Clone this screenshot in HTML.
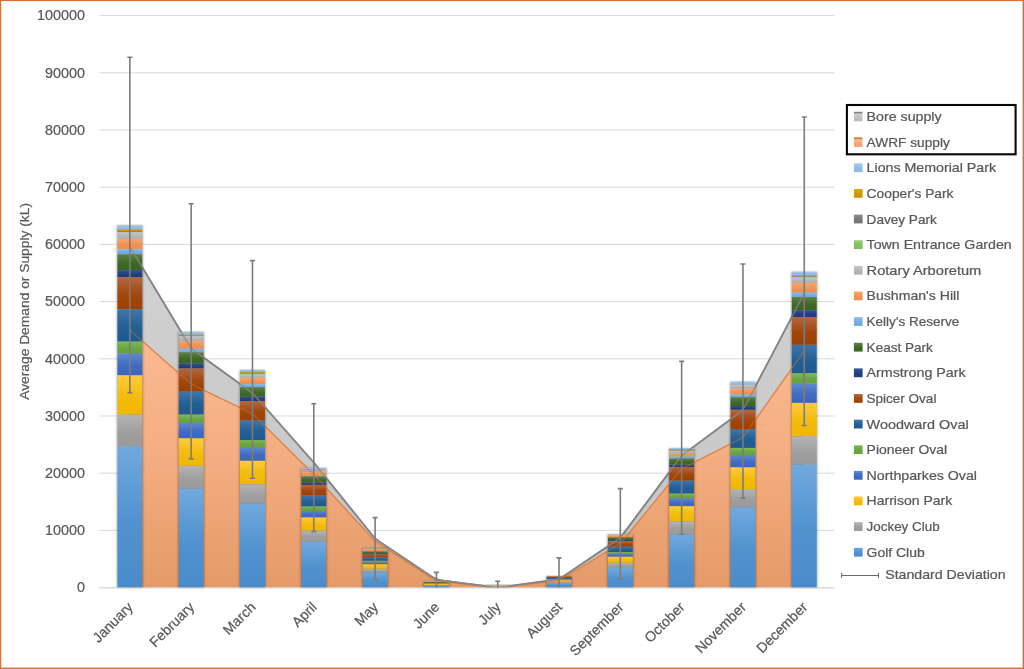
<!DOCTYPE html>
<html lang="en"><head><meta charset="utf-8"><title>Average Demand or Supply (kL)</title>
<style>html,body{margin:0;padding:0;background:#fff;}body{width:1024px;height:669px;overflow:hidden;}svg{display:block;}svg text{stroke:#595959;stroke-width:0.24px;}</style>
</head><body>
<svg width="1024" height="669" viewBox="0 0 1024 669" font-family="'Liberation Sans', sans-serif" font-size="13" fill="#595959">
<defs>
<linearGradient id="g0" x1="0" y1="0" x2="0" y2="1"><stop offset="0" stop-color="#A6CAEC"/><stop offset="0.55" stop-color="#93BDE6"/><stop offset="1" stop-color="#8FBAE5"/></linearGradient>
<linearGradient id="g1" x1="0" y1="0" x2="0" y2="1"><stop offset="0" stop-color="#DDA520"/><stop offset="0.55" stop-color="#CD9706"/><stop offset="1" stop-color="#C99400"/></linearGradient>
<linearGradient id="g2" x1="0" y1="0" x2="0" y2="1"><stop offset="0" stop-color="#8C8C8C"/><stop offset="0.55" stop-color="#7A7A7A"/><stop offset="1" stop-color="#767676"/></linearGradient>
<linearGradient id="g3" x1="0" y1="0" x2="0" y2="1"><stop offset="0" stop-color="#98CC78"/><stop offset="0.55" stop-color="#84BF61"/><stop offset="1" stop-color="#80BC5C"/></linearGradient>
<linearGradient id="g4" x1="0" y1="0" x2="0" y2="1"><stop offset="0" stop-color="#C8C8C8"/><stop offset="0.55" stop-color="#B4B4B4"/><stop offset="1" stop-color="#B0B0B0"/></linearGradient>
<linearGradient id="g5" x1="0" y1="0" x2="0" y2="1"><stop offset="0" stop-color="#F8A66E"/><stop offset="0.55" stop-color="#F09354"/><stop offset="1" stop-color="#EE8F4E"/></linearGradient>
<linearGradient id="g6" x1="0" y1="0" x2="0" y2="1"><stop offset="0" stop-color="#8FBDE9"/><stop offset="0.55" stop-color="#76ACE0"/><stop offset="1" stop-color="#70A8DE"/></linearGradient>
<linearGradient id="g7" x1="0" y1="0" x2="0" y2="1"><stop offset="0" stop-color="#5C8045"/><stop offset="0.55" stop-color="#406928"/><stop offset="1" stop-color="#3A6422"/></linearGradient>
<linearGradient id="g8" x1="0" y1="0" x2="0" y2="1"><stop offset="0" stop-color="#34538F"/><stop offset="0.55" stop-color="#22407C"/><stop offset="1" stop-color="#1E3C78"/></linearGradient>
<linearGradient id="g9" x1="0" y1="0" x2="0" y2="1"><stop offset="0" stop-color="#B4673F"/><stop offset="0.55" stop-color="#A0470B"/><stop offset="1" stop-color="#9C4000"/></linearGradient>
<linearGradient id="g10" x1="0" y1="0" x2="0" y2="1"><stop offset="0" stop-color="#4175A8"/><stop offset="0.55" stop-color="#235F95"/><stop offset="1" stop-color="#1D5A91"/></linearGradient>
<linearGradient id="g11" x1="0" y1="0" x2="0" y2="1"><stop offset="0" stop-color="#80BA5A"/><stop offset="0.55" stop-color="#69A641"/><stop offset="1" stop-color="#64A23C"/></linearGradient>
<linearGradient id="g12" x1="0" y1="0" x2="0" y2="1"><stop offset="0" stop-color="#5F89D2"/><stop offset="0.55" stop-color="#416CC1"/><stop offset="1" stop-color="#3A66BD"/></linearGradient>
<linearGradient id="g13" x1="0" y1="0" x2="0" y2="1"><stop offset="0" stop-color="#FFCB3F"/><stop offset="0.55" stop-color="#F3BB0B"/><stop offset="1" stop-color="#F0B800"/></linearGradient>
<linearGradient id="g14" x1="0" y1="0" x2="0" y2="1"><stop offset="0" stop-color="#B4B4B4"/><stop offset="0.55" stop-color="#9F9F9F"/><stop offset="1" stop-color="#9A9A9A"/></linearGradient>
<linearGradient id="g15" x1="0" y1="0" x2="0" y2="1"><stop offset="0" stop-color="#70A9DE"/><stop offset="0.55" stop-color="#5191CE"/><stop offset="1" stop-color="#4A8CCB"/></linearGradient>
<linearGradient id="ga" x1="0" y1="0" x2="0" y2="1"><stop offset="0" stop-color="#FABB92"/><stop offset="0.5" stop-color="#F4AD81"/><stop offset="1" stop-color="#E59A68"/></linearGradient>
<linearGradient id="gb" x1="0" y1="0" x2="0" y2="1"><stop offset="0" stop-color="#D2D2D2"/><stop offset="1" stop-color="#C4C4C4"/></linearGradient>
<linearGradient id="lga" x1="0" y1="0" x2="0" y2="1"><stop offset="0" stop-color="#F9BC93"/><stop offset="1" stop-color="#EE9C69"/></linearGradient>
<linearGradient id="lgb" x1="0" y1="0" x2="0" y2="1"><stop offset="0" stop-color="#D0D0D0"/><stop offset="1" stop-color="#B8B8B8"/></linearGradient>
<filter id="sh" x="-20%" y="-5%" width="140%" height="110%"><feGaussianBlur stdDeviation="1.1"/></filter>
</defs>
<rect x="0" y="0" width="1024" height="669" fill="#fff"/>
<line x1="99.4" y1="15.60" x2="834.6" y2="15.60" stroke="#D9D9D9" stroke-width="1"/>
<text x="37.08" y="20.30" font-size="14.1" textLength="47.82" lengthAdjust="spacingAndGlyphs">100000</text>
<line x1="99.4" y1="72.80" x2="834.6" y2="72.80" stroke="#D9D9D9" stroke-width="1"/>
<text x="45.05" y="77.50" font-size="14.1" textLength="39.85" lengthAdjust="spacingAndGlyphs">90000</text>
<line x1="99.4" y1="130.00" x2="834.6" y2="130.00" stroke="#D9D9D9" stroke-width="1"/>
<text x="45.05" y="134.70" font-size="14.1" textLength="39.85" lengthAdjust="spacingAndGlyphs">80000</text>
<line x1="99.4" y1="187.20" x2="834.6" y2="187.20" stroke="#D9D9D9" stroke-width="1"/>
<text x="45.05" y="191.90" font-size="14.1" textLength="39.85" lengthAdjust="spacingAndGlyphs">70000</text>
<line x1="99.4" y1="244.40" x2="834.6" y2="244.40" stroke="#D9D9D9" stroke-width="1"/>
<text x="45.05" y="249.10" font-size="14.1" textLength="39.85" lengthAdjust="spacingAndGlyphs">60000</text>
<line x1="99.4" y1="301.60" x2="834.6" y2="301.60" stroke="#D9D9D9" stroke-width="1"/>
<text x="45.05" y="306.30" font-size="14.1" textLength="39.85" lengthAdjust="spacingAndGlyphs">50000</text>
<line x1="99.4" y1="358.80" x2="834.6" y2="358.80" stroke="#D9D9D9" stroke-width="1"/>
<text x="45.05" y="363.50" font-size="14.1" textLength="39.85" lengthAdjust="spacingAndGlyphs">40000</text>
<line x1="99.4" y1="416.00" x2="834.6" y2="416.00" stroke="#D9D9D9" stroke-width="1"/>
<text x="45.05" y="420.70" font-size="14.1" textLength="39.85" lengthAdjust="spacingAndGlyphs">30000</text>
<line x1="99.4" y1="473.20" x2="834.6" y2="473.20" stroke="#D9D9D9" stroke-width="1"/>
<text x="45.05" y="477.90" font-size="14.1" textLength="39.85" lengthAdjust="spacingAndGlyphs">20000</text>
<line x1="99.4" y1="530.40" x2="834.6" y2="530.40" stroke="#D9D9D9" stroke-width="1"/>
<text x="45.05" y="535.10" font-size="14.1" textLength="39.85" lengthAdjust="spacingAndGlyphs">10000</text>
<line x1="99.4" y1="587.60" x2="834.6" y2="587.60" stroke="#D9D9D9" stroke-width="1"/>
<text x="76.93" y="592.30" font-size="14.1" textLength="7.97" lengthAdjust="spacingAndGlyphs">0</text>
<path d="M129.85 246.60L188.58 344.22Q191.16 348.50 195.21 351.44L248.42 390.06Q252.47 393.00 255.78 396.75L310.47 458.75Q313.78 462.50 316.91 466.40L371.96 534.80Q375.09 538.70 379.25 541.48L432.24 576.92Q436.40 579.70 441.36 580.34L492.75 586.96Q497.71 587.60 502.66 586.92L554.07 579.88Q559.02 579.20 563.17 576.41L616.18 540.69Q620.33 537.90 623.32 533.89L678.65 459.61Q681.64 455.60 685.66 452.62L738.93 413.18Q742.95 410.20 745.27 405.77L804.26 293.20L804.26 350.90L745.84 433.32Q742.95 437.40 738.50 439.67L686.09 466.43Q681.64 468.70 678.47 472.57L623.50 539.63Q620.33 543.50 616.05 546.09L563.30 578.01Q559.02 580.60 554.05 581.17L502.68 587.03Q497.71 587.60 492.74 587.08L441.37 581.72Q436.40 581.20 432.21 578.47L379.28 543.93Q375.09 541.20 371.71 537.52L317.16 478.18Q313.78 474.50 310.23 470.98L256.02 417.22Q252.47 413.70 247.97 411.52L195.66 386.18Q191.16 384.00 187.40 380.70L129.85 330.10Z" fill="url(#gb)"/>
<path d="M129.85 330.10L187.40 380.70Q191.16 384.00 195.66 386.18L247.97 411.52Q252.47 413.70 256.02 417.22L310.23 470.98Q313.78 474.50 317.16 478.18L371.71 537.52Q375.09 541.20 379.28 543.93L432.21 578.47Q436.40 581.20 441.37 581.72L492.74 587.08Q497.71 587.60 502.68 587.03L554.05 581.17Q559.02 580.60 563.30 578.01L616.05 546.09Q620.33 543.50 623.50 539.63L678.47 472.57Q681.64 468.70 686.09 466.43L738.50 439.67Q742.95 437.40 745.84 433.32L804.26 350.90L804.26 587.6L129.85 587.6Z" fill="url(#ga)"/>
<path d="M129.85 330.10L187.40 380.70Q191.16 384.00 195.66 386.18L247.97 411.52Q252.47 413.70 256.02 417.22L310.23 470.98Q313.78 474.50 317.16 478.18L371.71 537.52Q375.09 541.20 379.28 543.93L432.21 578.47Q436.40 581.20 441.37 581.72L492.74 587.08Q497.71 587.60 502.68 587.03L554.05 581.17Q559.02 580.60 563.30 578.01L616.05 546.09Q620.33 543.50 623.50 539.63L678.47 472.57Q681.64 468.70 686.09 466.43L738.50 439.67Q742.95 437.40 745.84 433.32L804.26 350.90" fill="none" stroke="#E8905A" stroke-width="1.1" stroke-linejoin="round"/>
<path d="M129.85 246.60L188.58 344.22Q191.16 348.50 195.21 351.44L248.42 390.06Q252.47 393.00 255.78 396.75L310.47 458.75Q313.78 462.50 316.91 466.40L371.96 534.80Q375.09 538.70 379.25 541.48L432.24 576.92Q436.40 579.70 441.36 580.34L492.75 586.96Q497.71 587.60 502.66 586.92L554.07 579.88Q559.02 579.20 563.17 576.41L616.18 540.69Q620.33 537.90 623.32 533.89L678.65 459.61Q681.64 455.60 685.66 452.62L738.93 413.18Q742.95 410.20 745.27 405.77L804.26 293.20" fill="none" stroke="#7C7C7C" stroke-width="1.8" stroke-linejoin="round"/>
<rect x="116.80" y="225.40" width="26.10" height="362.20" fill="#000" opacity="0.33" filter="url(#sh)"/>
<rect x="117.40" y="225.10" width="24.9" height="4.20" fill="url(#g0)"/>
<rect x="117.40" y="229.30" width="24.9" height="1.80" fill="url(#g1)"/>
<rect x="117.40" y="231.10" width="24.9" height="0.90" fill="url(#g2)"/>
<rect x="117.40" y="232.00" width="24.9" height="0.30" fill="url(#g3)"/>
<rect x="117.40" y="232.30" width="24.9" height="6.60" fill="url(#g4)"/>
<rect x="117.40" y="238.90" width="24.9" height="10.00" fill="url(#g5)"/>
<rect x="117.40" y="248.90" width="24.9" height="5.40" fill="url(#g6)"/>
<rect x="117.40" y="254.30" width="24.9" height="15.80" fill="url(#g7)"/>
<rect x="117.40" y="270.10" width="24.9" height="7.20" fill="url(#g8)"/>
<rect x="117.40" y="277.30" width="24.9" height="32.00" fill="url(#g9)"/>
<rect x="117.40" y="309.30" width="24.9" height="32.30" fill="url(#g10)"/>
<rect x="117.40" y="341.60" width="24.9" height="11.90" fill="url(#g11)"/>
<rect x="117.40" y="353.50" width="24.9" height="21.80" fill="url(#g12)"/>
<rect x="117.40" y="375.30" width="24.9" height="39.30" fill="url(#g13)"/>
<rect x="117.40" y="414.60" width="24.9" height="31.80" fill="url(#g14)"/>
<rect x="117.40" y="446.40" width="24.9" height="141.20" fill="url(#g15)"/>
<rect x="178.11" y="332.00" width="26.10" height="255.60" fill="#000" opacity="0.33" filter="url(#sh)"/>
<rect x="178.71" y="331.70" width="24.9" height="2.90" fill="url(#g0)"/>
<rect x="178.71" y="334.60" width="24.9" height="0.90" fill="url(#g1)"/>
<rect x="178.71" y="335.50" width="24.9" height="0.50" fill="url(#g2)"/>
<rect x="178.71" y="336.00" width="24.9" height="0.20" fill="url(#g3)"/>
<rect x="178.71" y="336.20" width="24.9" height="4.70" fill="url(#g4)"/>
<rect x="178.71" y="340.90" width="24.9" height="7.90" fill="url(#g5)"/>
<rect x="178.71" y="348.80" width="24.9" height="3.60" fill="url(#g6)"/>
<rect x="178.71" y="352.40" width="24.9" height="11.10" fill="url(#g7)"/>
<rect x="178.71" y="363.50" width="24.9" height="5.00" fill="url(#g8)"/>
<rect x="178.71" y="368.50" width="24.9" height="23.00" fill="url(#g9)"/>
<rect x="178.71" y="391.50" width="24.9" height="23.10" fill="url(#g10)"/>
<rect x="178.71" y="414.60" width="24.9" height="8.10" fill="url(#g11)"/>
<rect x="178.71" y="422.70" width="24.9" height="15.60" fill="url(#g12)"/>
<rect x="178.71" y="438.30" width="24.9" height="27.50" fill="url(#g13)"/>
<rect x="178.71" y="465.80" width="24.9" height="22.70" fill="url(#g14)"/>
<rect x="178.71" y="488.50" width="24.9" height="99.10" fill="url(#g15)"/>
<rect x="239.42" y="370.10" width="26.10" height="217.50" fill="#000" opacity="0.33" filter="url(#sh)"/>
<rect x="240.02" y="369.80" width="24.9" height="2.00" fill="url(#g0)"/>
<rect x="240.02" y="371.80" width="24.9" height="1.10" fill="url(#g1)"/>
<rect x="240.02" y="372.90" width="24.9" height="0.80" fill="url(#g2)"/>
<rect x="240.02" y="373.70" width="24.9" height="0.80" fill="url(#g3)"/>
<rect x="240.02" y="374.50" width="24.9" height="3.30" fill="url(#g4)"/>
<rect x="240.02" y="377.80" width="24.9" height="6.20" fill="url(#g5)"/>
<rect x="240.02" y="384.00" width="24.9" height="3.20" fill="url(#g6)"/>
<rect x="240.02" y="387.20" width="24.9" height="9.50" fill="url(#g7)"/>
<rect x="240.02" y="396.70" width="24.9" height="4.60" fill="url(#g8)"/>
<rect x="240.02" y="401.30" width="24.9" height="19.20" fill="url(#g9)"/>
<rect x="240.02" y="420.50" width="24.9" height="19.70" fill="url(#g10)"/>
<rect x="240.02" y="440.20" width="24.9" height="7.10" fill="url(#g11)"/>
<rect x="240.02" y="447.30" width="24.9" height="13.50" fill="url(#g12)"/>
<rect x="240.02" y="460.80" width="24.9" height="23.50" fill="url(#g13)"/>
<rect x="240.02" y="484.30" width="24.9" height="19.20" fill="url(#g14)"/>
<rect x="240.02" y="503.50" width="24.9" height="84.10" fill="url(#g15)"/>
<rect x="300.73" y="468.10" width="26.10" height="119.50" fill="#000" opacity="0.33" filter="url(#sh)"/>
<rect x="301.33" y="467.80" width="24.9" height="1.70" fill="url(#g0)"/>
<rect x="301.33" y="469.50" width="24.9" height="0.40" fill="url(#g1)"/>
<rect x="301.33" y="469.90" width="24.9" height="0.30" fill="url(#g2)"/>
<rect x="301.33" y="470.20" width="24.9" height="0.10" fill="url(#g3)"/>
<rect x="301.33" y="470.30" width="24.9" height="1.30" fill="url(#g4)"/>
<rect x="301.33" y="471.60" width="24.9" height="3.50" fill="url(#g5)"/>
<rect x="301.33" y="475.10" width="24.9" height="1.40" fill="url(#g6)"/>
<rect x="301.33" y="476.50" width="24.9" height="5.90" fill="url(#g7)"/>
<rect x="301.33" y="482.40" width="24.9" height="2.50" fill="url(#g8)"/>
<rect x="301.33" y="484.90" width="24.9" height="10.50" fill="url(#g9)"/>
<rect x="301.33" y="495.40" width="24.9" height="11.10" fill="url(#g10)"/>
<rect x="301.33" y="506.50" width="24.9" height="4.40" fill="url(#g11)"/>
<rect x="301.33" y="510.90" width="24.9" height="6.50" fill="url(#g12)"/>
<rect x="301.33" y="517.40" width="24.9" height="13.20" fill="url(#g13)"/>
<rect x="301.33" y="530.60" width="24.9" height="11.10" fill="url(#g14)"/>
<rect x="301.33" y="541.70" width="24.9" height="45.90" fill="url(#g15)"/>
<rect x="362.04" y="548.40" width="26.10" height="39.20" fill="#000" opacity="0.33" filter="url(#sh)"/>
<rect x="362.64" y="548.10" width="24.9" height="0.50" fill="url(#g0)"/>
<rect x="362.64" y="548.60" width="24.9" height="0.20" fill="url(#g1)"/>
<rect x="362.64" y="548.80" width="24.9" height="0.10" fill="url(#g2)"/>
<rect x="362.64" y="548.90" width="24.9" height="0.10" fill="url(#g3)"/>
<rect x="362.64" y="549.00" width="24.9" height="0.80" fill="url(#g4)"/>
<rect x="362.64" y="549.80" width="24.9" height="1.40" fill="url(#g5)"/>
<rect x="362.64" y="551.20" width="24.9" height="0.40" fill="url(#g6)"/>
<rect x="362.64" y="551.60" width="24.9" height="1.90" fill="url(#g7)"/>
<rect x="362.64" y="553.50" width="24.9" height="1.00" fill="url(#g8)"/>
<rect x="362.64" y="554.50" width="24.9" height="3.00" fill="url(#g9)"/>
<rect x="362.64" y="557.50" width="24.9" height="3.30" fill="url(#g10)"/>
<rect x="362.64" y="560.80" width="24.9" height="1.70" fill="url(#g11)"/>
<rect x="362.64" y="562.50" width="24.9" height="1.80" fill="url(#g12)"/>
<rect x="362.64" y="564.30" width="24.9" height="4.50" fill="url(#g13)"/>
<rect x="362.64" y="568.80" width="24.9" height="3.70" fill="url(#g14)"/>
<rect x="362.64" y="572.50" width="24.9" height="15.10" fill="url(#g15)"/>
<rect x="423.35" y="581.20" width="26.10" height="6.40" fill="#000" opacity="0.33" filter="url(#sh)"/>
<rect x="423.95" y="580.90" width="24.9" height="0.10" fill="url(#g0)"/>
<rect x="423.95" y="581.00" width="24.9" height="0.90" fill="url(#g4)"/>
<rect x="423.95" y="581.90" width="24.9" height="1.40" fill="url(#g7)"/>
<rect x="423.95" y="583.30" width="24.9" height="0.20" fill="url(#g9)"/>
<rect x="423.95" y="583.50" width="24.9" height="0.20" fill="url(#g11)"/>
<rect x="423.95" y="583.70" width="24.9" height="1.70" fill="url(#g13)"/>
<rect x="423.95" y="585.40" width="24.9" height="0.20" fill="url(#g14)"/>
<rect x="423.95" y="585.60" width="24.9" height="2.00" fill="url(#g15)"/>
<rect x="484.66" y="584.90" width="26.10" height="2.70" fill="#000" opacity="0.33" filter="url(#sh)"/>
<rect x="485.26" y="584.60" width="24.9" height="1.40" fill="url(#g4)"/>
<rect x="485.26" y="586.00" width="24.9" height="1.20" fill="url(#g13)"/>
<rect x="485.26" y="587.20" width="24.9" height="0.10" fill="url(#g14)"/>
<rect x="485.26" y="587.30" width="24.9" height="0.30" fill="url(#g15)"/>
<rect x="545.97" y="576.20" width="26.10" height="11.40" fill="#000" opacity="0.33" filter="url(#sh)"/>
<rect x="546.57" y="575.90" width="24.9" height="0.40" fill="url(#g1)"/>
<rect x="546.57" y="576.30" width="24.9" height="0.10" fill="url(#g7)"/>
<rect x="546.57" y="576.40" width="24.9" height="1.60" fill="url(#g9)"/>
<rect x="546.57" y="578.00" width="24.9" height="1.30" fill="url(#g10)"/>
<rect x="546.57" y="579.30" width="24.9" height="1.00" fill="url(#g11)"/>
<rect x="546.57" y="580.30" width="24.9" height="0.10" fill="url(#g12)"/>
<rect x="546.57" y="580.40" width="24.9" height="2.00" fill="url(#g13)"/>
<rect x="546.57" y="582.40" width="24.9" height="0.40" fill="url(#g14)"/>
<rect x="546.57" y="582.80" width="24.9" height="4.80" fill="url(#g15)"/>
<rect x="607.28" y="534.30" width="26.10" height="53.30" fill="#000" opacity="0.33" filter="url(#sh)"/>
<rect x="607.88" y="534.00" width="24.9" height="0.50" fill="url(#g0)"/>
<rect x="607.88" y="534.50" width="24.9" height="0.10" fill="url(#g1)"/>
<rect x="607.88" y="534.60" width="24.9" height="0.10" fill="url(#g2)"/>
<rect x="607.88" y="534.70" width="24.9" height="0.70" fill="url(#g4)"/>
<rect x="607.88" y="535.40" width="24.9" height="1.60" fill="url(#g5)"/>
<rect x="607.88" y="537.00" width="24.9" height="0.40" fill="url(#g6)"/>
<rect x="607.88" y="537.40" width="24.9" height="2.60" fill="url(#g7)"/>
<rect x="607.88" y="540.00" width="24.9" height="1.30" fill="url(#g8)"/>
<rect x="607.88" y="541.30" width="24.9" height="5.40" fill="url(#g9)"/>
<rect x="607.88" y="546.70" width="24.9" height="5.30" fill="url(#g10)"/>
<rect x="607.88" y="552.00" width="24.9" height="1.90" fill="url(#g11)"/>
<rect x="607.88" y="553.90" width="24.9" height="2.80" fill="url(#g12)"/>
<rect x="607.88" y="556.70" width="24.9" height="6.10" fill="url(#g13)"/>
<rect x="607.88" y="562.80" width="24.9" height="5.10" fill="url(#g14)"/>
<rect x="607.88" y="567.90" width="24.9" height="19.70" fill="url(#g15)"/>
<rect x="668.59" y="448.40" width="26.10" height="139.20" fill="#000" opacity="0.33" filter="url(#sh)"/>
<rect x="669.19" y="448.10" width="24.9" height="1.00" fill="url(#g0)"/>
<rect x="669.19" y="449.10" width="24.9" height="1.20" fill="url(#g1)"/>
<rect x="669.19" y="450.30" width="24.9" height="0.50" fill="url(#g2)"/>
<rect x="669.19" y="450.80" width="24.9" height="0.10" fill="url(#g3)"/>
<rect x="669.19" y="450.90" width="24.9" height="2.30" fill="url(#g4)"/>
<rect x="669.19" y="453.20" width="24.9" height="3.30" fill="url(#g5)"/>
<rect x="669.19" y="456.50" width="24.9" height="2.10" fill="url(#g6)"/>
<rect x="669.19" y="458.60" width="24.9" height="6.20" fill="url(#g7)"/>
<rect x="669.19" y="464.80" width="24.9" height="2.50" fill="url(#g8)"/>
<rect x="669.19" y="467.30" width="24.9" height="13.30" fill="url(#g9)"/>
<rect x="669.19" y="480.60" width="24.9" height="13.00" fill="url(#g10)"/>
<rect x="669.19" y="493.60" width="24.9" height="4.70" fill="url(#g11)"/>
<rect x="669.19" y="498.30" width="24.9" height="7.90" fill="url(#g12)"/>
<rect x="669.19" y="506.20" width="24.9" height="15.10" fill="url(#g13)"/>
<rect x="669.19" y="521.30" width="24.9" height="13.20" fill="url(#g14)"/>
<rect x="669.19" y="534.50" width="24.9" height="53.10" fill="url(#g15)"/>
<rect x="729.90" y="381.90" width="26.10" height="205.70" fill="#000" opacity="0.33" filter="url(#sh)"/>
<rect x="730.50" y="381.60" width="24.9" height="3.00" fill="url(#g0)"/>
<rect x="730.50" y="384.60" width="24.9" height="0.10" fill="url(#g1)"/>
<rect x="730.50" y="384.70" width="24.9" height="0.10" fill="url(#g2)"/>
<rect x="730.50" y="384.80" width="24.9" height="4.10" fill="url(#g4)"/>
<rect x="730.50" y="388.90" width="24.9" height="5.60" fill="url(#g5)"/>
<rect x="730.50" y="394.50" width="24.9" height="2.70" fill="url(#g6)"/>
<rect x="730.50" y="397.20" width="24.9" height="8.80" fill="url(#g7)"/>
<rect x="730.50" y="406.00" width="24.9" height="3.80" fill="url(#g8)"/>
<rect x="730.50" y="409.80" width="24.9" height="19.30" fill="url(#g9)"/>
<rect x="730.50" y="429.10" width="24.9" height="18.80" fill="url(#g10)"/>
<rect x="730.50" y="447.90" width="24.9" height="7.30" fill="url(#g11)"/>
<rect x="730.50" y="455.20" width="24.9" height="12.10" fill="url(#g12)"/>
<rect x="730.50" y="467.30" width="24.9" height="21.80" fill="url(#g13)"/>
<rect x="730.50" y="489.10" width="24.9" height="18.30" fill="url(#g14)"/>
<rect x="730.50" y="507.40" width="24.9" height="80.20" fill="url(#g15)"/>
<rect x="791.21" y="272.00" width="26.10" height="315.60" fill="#000" opacity="0.33" filter="url(#sh)"/>
<rect x="791.81" y="271.70" width="24.9" height="3.40" fill="url(#g0)"/>
<rect x="791.81" y="275.10" width="24.9" height="1.30" fill="url(#g1)"/>
<rect x="791.81" y="276.40" width="24.9" height="0.80" fill="url(#g2)"/>
<rect x="791.81" y="277.20" width="24.9" height="0.20" fill="url(#g3)"/>
<rect x="791.81" y="277.40" width="24.9" height="5.60" fill="url(#g4)"/>
<rect x="791.81" y="283.00" width="24.9" height="9.60" fill="url(#g5)"/>
<rect x="791.81" y="292.60" width="24.9" height="4.50" fill="url(#g6)"/>
<rect x="791.81" y="297.10" width="24.9" height="13.10" fill="url(#g7)"/>
<rect x="791.81" y="310.20" width="24.9" height="6.80" fill="url(#g8)"/>
<rect x="791.81" y="317.00" width="24.9" height="27.80" fill="url(#g9)"/>
<rect x="791.81" y="344.80" width="24.9" height="28.50" fill="url(#g10)"/>
<rect x="791.81" y="373.30" width="24.9" height="10.30" fill="url(#g11)"/>
<rect x="791.81" y="383.60" width="24.9" height="19.30" fill="url(#g12)"/>
<rect x="791.81" y="402.90" width="24.9" height="33.50" fill="url(#g13)"/>
<rect x="791.81" y="436.40" width="24.9" height="28.20" fill="url(#g14)"/>
<rect x="791.81" y="464.60" width="24.9" height="123.00" fill="url(#g15)"/>
<path d="M129.85 330.10L187.40 380.70Q191.16 384.00 195.66 386.18L247.97 411.52Q252.47 413.70 256.02 417.22L310.23 470.98Q313.78 474.50 317.16 478.18L371.71 537.52Q375.09 541.20 379.28 543.93L432.21 578.47Q436.40 581.20 441.37 581.72L492.74 587.08Q497.71 587.60 502.68 587.03L554.05 581.17Q559.02 580.60 563.30 578.01L616.05 546.09Q620.33 543.50 623.50 539.63L678.47 472.57Q681.64 468.70 686.09 466.43L738.50 439.67Q742.95 437.40 745.84 433.32L804.26 350.90" fill="none" stroke="#C8743E" stroke-width="1.2" stroke-linejoin="round" opacity="0.55"/>
<path d="M129.85 246.60L188.58 344.22Q191.16 348.50 195.21 351.44L248.42 390.06Q252.47 393.00 255.78 396.75L310.47 458.75Q313.78 462.50 316.91 466.40L371.96 534.80Q375.09 538.70 379.25 541.48L432.24 576.92Q436.40 579.70 441.36 580.34L492.75 586.96Q497.71 587.60 502.66 586.92L554.07 579.88Q559.02 579.20 563.17 576.41L616.18 540.69Q620.33 537.90 623.32 533.89L678.65 459.61Q681.64 455.60 685.66 452.62L738.93 413.18Q742.95 410.20 745.27 405.77L804.26 293.20" fill="none" stroke="#8A8A8A" stroke-width="1.4" stroke-linejoin="round" opacity="0.8"/>
<line x1="99.4" y1="588.0" x2="834.6" y2="588.0" stroke="#D9D9D9" stroke-width="1"/>
<path d="M129.85 57.30V392.60M127.35 57.30H132.35M127.35 392.60H132.35" stroke="#7C7C7C" stroke-width="1.6" fill="none"/>
<path d="M191.16 203.80V458.90M188.66 203.80H193.66M188.66 458.90H193.66" stroke="#7C7C7C" stroke-width="1.6" fill="none"/>
<path d="M252.47 260.60V478.30M249.97 260.60H254.97M249.97 478.30H254.97" stroke="#7C7C7C" stroke-width="1.6" fill="none"/>
<path d="M313.78 403.80V531.60M311.28 403.80H316.28M311.28 531.60H316.28" stroke="#7C7C7C" stroke-width="1.6" fill="none"/>
<path d="M375.09 517.60V579.20M372.59 517.60H377.59M372.59 579.20H377.59" stroke="#7C7C7C" stroke-width="1.6" fill="none"/>
<path d="M436.40 572.40V587.60M433.90 572.40H438.90" stroke="#7C7C7C" stroke-width="1.6" fill="none"/>
<path d="M497.71 581.30V587.60M495.21 581.30H500.21" stroke="#7C7C7C" stroke-width="1.6" fill="none"/>
<path d="M559.02 557.90V587.60M556.52 557.90H561.52" stroke="#7C7C7C" stroke-width="1.6" fill="none"/>
<path d="M620.33 488.60V578.80M617.83 488.60H622.83M617.83 578.80H622.83" stroke="#7C7C7C" stroke-width="1.6" fill="none"/>
<path d="M681.64 361.40V534.00M679.14 361.40H684.14M679.14 534.00H684.14" stroke="#7C7C7C" stroke-width="1.6" fill="none"/>
<path d="M742.95 264.00V498.10M740.45 264.00H745.45M740.45 498.10H745.45" stroke="#7C7C7C" stroke-width="1.6" fill="none"/>
<path d="M804.26 117.00V425.50M801.76 117.00H806.76M801.76 425.50H806.76" stroke="#7C7C7C" stroke-width="1.6" fill="none"/>
<text transform="translate(133.85 608.0) rotate(-45)" text-anchor="end" font-size="14.1">January</text>
<text transform="translate(195.16 608.0) rotate(-45)" text-anchor="end" font-size="14.1">February</text>
<text transform="translate(256.47 608.0) rotate(-45)" text-anchor="end" font-size="14.1">March</text>
<text transform="translate(317.78 608.0) rotate(-45)" text-anchor="end" font-size="14.1">April</text>
<text transform="translate(379.09 608.0) rotate(-45)" text-anchor="end" font-size="14.1">May</text>
<text transform="translate(440.40 608.0) rotate(-45)" text-anchor="end" font-size="14.1">June</text>
<text transform="translate(501.71 608.0) rotate(-45)" text-anchor="end" font-size="14.1">July</text>
<text transform="translate(563.02 608.0) rotate(-45)" text-anchor="end" font-size="14.1">August</text>
<text transform="translate(624.33 608.0) rotate(-45)" text-anchor="end" font-size="14.1">September</text>
<text transform="translate(685.64 608.0) rotate(-45)" text-anchor="end" font-size="14.1">October</text>
<text transform="translate(746.95 608.0) rotate(-45)" text-anchor="end" font-size="14.1">November</text>
<text transform="translate(808.26 608.0) rotate(-45)" text-anchor="end" font-size="14.1">December</text>
<text transform="translate(29.3 399.8) rotate(-90)" font-size="13" textLength="196.8" lengthAdjust="spacingAndGlyphs">Average Demand or Supply (kL)</text>
<rect x="853.9" y="112.00" width="8.5" height="9.2" fill="url(#lgb)"/><rect x="853.9" y="111.80" width="8.5" height="1.5" fill="#808080"/>
<text x="866.6" y="121.00" textLength="75.0" lengthAdjust="spacingAndGlyphs">Bore supply</text>
<rect x="853.9" y="137.63" width="8.5" height="9.2" fill="url(#lga)"/><rect x="853.9" y="137.43" width="8.5" height="1.5" fill="#D8733A"/>
<text x="866.6" y="146.63" textLength="83.3" lengthAdjust="spacingAndGlyphs">AWRF supply</text>
<rect x="853.9" y="163.36" width="8.7" height="8.8" fill="url(#g0)"/>
<text x="866.6" y="172.26" textLength="129.5" lengthAdjust="spacingAndGlyphs">Lions Memorial Park</text>
<rect x="853.9" y="188.99" width="8.7" height="8.8" fill="url(#g1)"/>
<text x="866.6" y="197.89" textLength="86.9" lengthAdjust="spacingAndGlyphs">Cooper's Park</text>
<rect x="853.9" y="214.62" width="8.7" height="8.8" fill="url(#g2)"/>
<text x="866.6" y="223.52" textLength="70.2" lengthAdjust="spacingAndGlyphs">Davey Park</text>
<rect x="853.9" y="240.25" width="8.7" height="8.8" fill="url(#g3)"/>
<text x="866.6" y="249.15" textLength="145.1" lengthAdjust="spacingAndGlyphs">Town Entrance Garden</text>
<rect x="853.9" y="265.88" width="8.7" height="8.8" fill="url(#g4)"/>
<text x="866.6" y="274.78" textLength="114.7" lengthAdjust="spacingAndGlyphs">Rotary Arboretum</text>
<rect x="853.9" y="291.51" width="8.7" height="8.8" fill="url(#g5)"/>
<text x="866.6" y="300.41" textLength="92.7" lengthAdjust="spacingAndGlyphs">Bushman's Hill</text>
<rect x="853.9" y="317.14" width="8.7" height="8.8" fill="url(#g6)"/>
<text x="866.6" y="326.04" textLength="92.7" lengthAdjust="spacingAndGlyphs">Kelly's Reserve</text>
<rect x="853.9" y="342.77" width="8.7" height="8.8" fill="url(#g7)"/>
<text x="866.6" y="351.67" textLength="66.3" lengthAdjust="spacingAndGlyphs">Keast Park</text>
<rect x="853.9" y="368.40" width="8.7" height="8.8" fill="url(#g8)"/>
<text x="866.6" y="377.30" textLength="99.1" lengthAdjust="spacingAndGlyphs">Armstrong Park</text>
<rect x="853.9" y="394.03" width="8.7" height="8.8" fill="url(#g9)"/>
<text x="866.6" y="402.93" textLength="69.8" lengthAdjust="spacingAndGlyphs">Spicer Oval</text>
<rect x="853.9" y="419.66" width="8.7" height="8.8" fill="url(#g10)"/>
<text x="866.6" y="428.56" textLength="102.1" lengthAdjust="spacingAndGlyphs">Woodward Oval</text>
<rect x="853.9" y="445.29" width="8.7" height="8.8" fill="url(#g11)"/>
<text x="866.6" y="454.19" textLength="80.5" lengthAdjust="spacingAndGlyphs">Pioneer Oval</text>
<rect x="853.9" y="470.92" width="8.7" height="8.8" fill="url(#g12)"/>
<text x="866.6" y="479.82" textLength="110.4" lengthAdjust="spacingAndGlyphs">Northparkes Oval</text>
<rect x="853.9" y="496.55" width="8.7" height="8.8" fill="url(#g13)"/>
<text x="866.6" y="505.45" textLength="85.6" lengthAdjust="spacingAndGlyphs">Harrison Park</text>
<rect x="853.9" y="522.18" width="8.7" height="8.8" fill="url(#g14)"/>
<text x="866.6" y="531.08" textLength="73.0" lengthAdjust="spacingAndGlyphs">Jockey Club</text>
<rect x="853.9" y="547.81" width="8.7" height="8.8" fill="url(#g15)"/>
<text x="866.6" y="556.71" textLength="58.1" lengthAdjust="spacingAndGlyphs">Golf Club</text>
<rect x="846.9" y="105.0" width="168.7" height="49.3" fill="none" stroke="#050505" stroke-width="2.1"/>
<path d="M841.6 575.4H878.5M841.6 572.9V577.9M878.5 572.9V577.9" stroke="#6A6A6A" stroke-width="1.05" fill="none"/>
<text x="885.2" y="579.20" textLength="120.4" lengthAdjust="spacingAndGlyphs">Standard Deviation</text>
<rect x="0" y="0" width="1.15" height="669" fill="#D07232"/>
<rect x="0" y="0" width="1024" height="1.1" fill="#D07232"/>
<rect x="1022.6" y="0" width="1.4" height="669" fill="#D07232"/>
<rect x="0" y="667.6" width="1024" height="1.4" fill="#D07232"/>
</svg>
</body></html>
